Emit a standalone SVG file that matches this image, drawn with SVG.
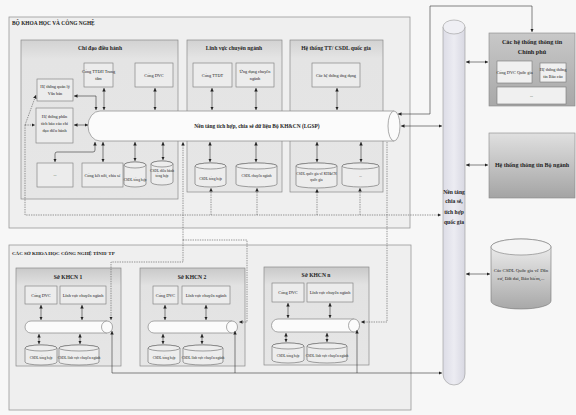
<svg xmlns="http://www.w3.org/2000/svg" width="576" height="415" viewBox="0 0 576 415">
<style>
text{font-family:"Liberation Serif","Times New Roman",serif;fill:#222;text-anchor:middle}
.t{font-size:4.3px}
.h{font-size:5.6px;font-weight:bold}
.hl{font-size:5.4px;font-weight:bold;text-anchor:start}
.outer{fill:#efefef;stroke:#9a9a9a;stroke-width:0.8}
.grp{fill:url(#gGrp);stroke:#8a8a8a;stroke-width:0.7}
.box{fill:#ececec;stroke:#777;stroke-width:0.6}
.cyl{fill:#ededed;stroke:#666;stroke-width:0.6}
.tube{fill:#fbfbfb;stroke:#888;stroke-width:0.7}
.ln{fill:none;stroke:#333;stroke-width:0.6}
.dt{fill:none;stroke:#555;stroke-width:0.6;stroke-dasharray:1.4 1}
</style>
<defs>
<marker id="a" viewBox="0 0 6 6" refX="6" refY="3" markerWidth="3.5" markerHeight="3.5" markerUnits="userSpaceOnUse" orient="auto-start-reverse"><path d="M0,0L6,3L0,6z" fill="#222"/></marker>
<linearGradient id="gGrp" x1="0" y1="0" x2="0" y2="1"><stop offset="0" stop-color="#d2d2d2"/><stop offset="0.12" stop-color="#e4e4e4"/><stop offset="1" stop-color="#e6e6e6"/></linearGradient>
<linearGradient id="gSo" x1="0" y1="0" x2="0" y2="1"><stop offset="0" stop-color="#c9c9c9"/><stop offset="0.18" stop-color="#e2e2e2"/><stop offset="1" stop-color="#e6e6e6"/></linearGradient>
<linearGradient id="gGov" x1="0" y1="0" x2="0" y2="1"><stop offset="0" stop-color="#c8c8c8"/><stop offset="1" stop-color="#a8a8a8"/></linearGradient>
<linearGradient id="gBn" x1="0" y1="0" x2="0" y2="1"><stop offset="0" stop-color="#e0e0e0"/><stop offset="1" stop-color="#a4a4a4"/></linearGradient>
<linearGradient id="gCyl" x1="0" y1="0" x2="0" y2="1"><stop offset="0" stop-color="#f2f2f2"/><stop offset="1" stop-color="#a8a8a8"/></linearGradient>
<linearGradient id="gV" x1="0" y1="0" x2="1" y2="0"><stop offset="0" stop-color="#dcdce6"/><stop offset="0.5" stop-color="#ececf2"/><stop offset="1" stop-color="#d8d8e2"/></linearGradient>
</defs>
<rect width="576" height="415" fill="#f7f7f7"/>

<g id="bo-khcn">
<rect class="outer" x="9" y="17" width="401" height="211"/>
<text class="hl" x="12" y="25">BỘ KHOA HỌC VÀ CÔNG NGHỆ</text>
</g>
<g id="chi-dao">
<rect class="grp" x="21" y="40" width="157" height="159"/>
<text class="h" x="100" y="50">Chỉ đạo điều hành</text>
</g>
<g id="linh-vuc">
<rect class="grp" x="187" y="40" width="95" height="152"/>
<text class="h" x="234" y="50">Lĩnh vực chuyên ngành</text>
</g>
<g id="ht-tt">
<rect class="grp" x="290" y="40" width="93" height="152"/>
<text class="h" x="336" y="50">Hệ thống TT/ CSDL quốc gia</text>
</g>
<g id="cong-ttdh"><rect class="box" x="84" y="63" width="29" height="24"/><text class="t" x="98.5" y="73">Cổng TTĐH Trung</text><text class="t" x="98.5" y="80">tâm</text></g>
<g id="cong-dvc"><rect class="box" x="135" y="63" width="38" height="24"/><text class="t" x="154" y="76.5">Cổng DVC</text></g>
<g id="ht-qlvb"><rect class="box" x="37" y="79" width="36" height="22"/><text class="t" x="55" y="88">Hệ thống quản lý</text><text class="t" x="55" y="95">Văn bản</text></g>
<g id="ht-pt"><rect class="box" x="36" y="108" width="37" height="35"/><text class="t" x="54.5" y="118">Hệ thống phân</text><text class="t" x="54.5" y="125">tích báo cáo chỉ</text><text class="t" x="54.5" y="132">đạo điều hành</text></g>
<g id="khac"><rect class="box" x="37" y="163" width="36" height="24"/><text class="t" x="55" y="176">...</text></g>
<g id="cong-ketnoi"><rect class="box" x="82" y="163" width="41" height="24"/><text class="t" x="102.5" y="176.5">Cổng kết nối, chia sẻ</text></g>
<g id="csdl-th"><path class="cyl" d="M124 165 A11 3 0 0 1 146 165 V184 A11 3 0 0 1 124 184Z"/><ellipse class="cyl" cx="135" cy="165" rx="11" ry="3"/><text class="t" x="135" y="181" style="font-size:3.6px">CSDL tổng hợp</text></g>
<g id="csdl-dh"><path class="cyl" d="M151 164 A11 3 0 0 1 173 164 V182 A11 3 0 0 1 151 182Z"/><ellipse class="cyl" cx="162" cy="164" rx="11" ry="3"/><text class="t" x="162" y="172" style="font-size:3.6px">CSDL điều hành</text><text class="t" x="162" y="177" style="font-size:3.6px">tổng hợp</text></g>
<g id="cong-ttdt"><rect class="box" x="193" y="63" width="39" height="24"/><text class="t" x="212.5" y="76.5">Cổng TTĐT</text></g>
<g id="ung-dung"><rect class="box" x="236" y="63" width="38" height="24"/><text class="t" x="255" y="73">Ứng dụng chuyên</text><text class="t" x="255" y="80">ngành</text></g>
<g id="csdl-th2"><path class="cyl" d="M195 166 A15.5 3 0 0 1 226 166 V184 A15.5 3 0 0 1 195 184Z"/><ellipse class="cyl" cx="210.5" cy="166" rx="15.5" ry="3"/><text class="t" x="210.5" y="180" style="font-size:3.6px">CSDL tổng hợp</text></g>
<g id="csdl-cn"><path class="cyl" d="M236 166 A20.5 3 0 0 1 277 166 V184 A20.5 3 0 0 1 236 184Z"/><ellipse class="cyl" cx="256.5" cy="166" rx="20.5" ry="3"/><text class="t" x="256.5" y="177" style="font-size:3.6px">CSDL chuyên ngành</text></g>
<g id="cac-ht-ud"><rect class="box" x="312" y="63" width="48" height="24"/><text class="t" x="336" y="76.5">Các hệ thống ứng dụng</text></g>
<g id="csdl-qg"><path class="cyl" d="M296 166 A20.5 3 0 0 1 337 166 V185 A20.5 3 0 0 1 296 185Z"/><ellipse class="cyl" cx="316.5" cy="166" rx="20.5" ry="3"/><text class="t" x="316.5" y="175" style="font-size:3.6px">CSDL quốc gia về KH&amp;CN</text><text class="t" x="316.5" y="181" style="font-size:3.6px">quốc gia</text></g>
<g id="csdl-khac"><path class="cyl" d="M342 166 A18.5 3 0 0 1 379 166 V184 A18.5 3 0 0 1 342 184Z"/><ellipse class="cyl" cx="360.5" cy="166" rx="18.5" ry="3"/><text class="t" x="360.5" y="177" style="font-size:3.6px">...</text></g>
<g id="lgsp">
<path class="tube" d="M100 111 H394 V141 H100 A12 15 0 0 1 100 111Z"/>
<ellipse class="tube" cx="394" cy="126" rx="6" ry="15"/>
<text class="h" x="257" y="128" style="font-size:5.4px">Nền tảng tích hợp, chia sẻ dữ liệu Bộ KH&amp;CN (LGSP)</text>
</g>

<g id="cac-so">
<rect class="outer" x="9" y="245" width="402" height="165"/>
<text class="hl" x="12" y="255" style="font-size:5px">CÁC SỞ KHOA HỌC CÔNG NGHỆ TỈNH/ TP</text>
</g>
<g id="so-1">
<rect class="grp" x="16" y="268" width="105" height="98" style="fill:url(#gSo)"/>
<text class="h" x="68" y="279">Sở KHCN 1</text>
<rect class="box" x="25" y="286" width="32" height="18"/><text class="t" x="41" y="296.5">Cổng DVC</text>
<rect class="box" x="60" y="286" width="46" height="18"/><text class="t" x="83" y="296.5">Lĩnh vực chuyên ngành</text>
<path class="tube" d="M31 321 H107 V333 H31 A6 6 0 0 1 31 321Z"/><ellipse class="tube" cx="107" cy="327" rx="5.5" ry="6"/>
<path class="cyl" d="M25 348 A16 3 0 0 1 57 348 V362 A16 3 0 0 1 25 362Z"/><ellipse class="cyl" cx="41" cy="348" rx="16" ry="3"/><text class="t" x="41" y="359" style="font-size:3.6px">CSDL tổng hợp</text>
<path class="cyl" d="M59 348 A20 3 0 0 1 99 348 V362 A20 3 0 0 1 59 362Z"/><ellipse class="cyl" cx="79" cy="348" rx="20" ry="3"/><text class="t" x="79" y="359" style="font-size:3.6px">CSDL lĩnh vực chuyên ngành</text>
</g>
<g id="so-2">
<rect class="grp" x="140" y="268" width="105" height="98" style="fill:url(#gSo)"/>
<text class="h" x="192" y="279">Sở KHCN 2</text>
<rect class="box" x="153" y="286" width="25" height="18"/><text class="t" x="165.5" y="296.5">Cổng DVC</text>
<rect class="box" x="182" y="286" width="48" height="18"/><text class="t" x="206" y="296.5">Lĩnh vực chuyên ngành</text>
<path class="tube" d="M154 321 H232 V333 H154 A6 6 0 0 1 154 321Z"/><ellipse class="tube" cx="232" cy="327" rx="5.5" ry="6"/>
<path class="cyl" d="M148 348 A16 3 0 0 1 180 348 V362 A16 3 0 0 1 148 362Z"/><ellipse class="cyl" cx="164" cy="348" rx="16" ry="3"/><text class="t" x="164" y="359" style="font-size:3.6px">CSDL tổng hợp</text>
<path class="cyl" d="M183 348 A20 3 0 0 1 223 348 V362 A20 3 0 0 1 183 362Z"/><ellipse class="cyl" cx="203" cy="348" rx="20" ry="3"/><text class="t" x="203" y="359" style="font-size:3.6px">CSDL lĩnh vực chuyên ngành</text>
</g>
<g id="so-n">
<rect class="grp" x="264" y="267" width="105" height="98" style="fill:url(#gSo)"/>
<text class="h" x="316" y="277">Sở KHCN n</text>
<rect class="box" x="272" y="283" width="32" height="19"/><text class="t" x="288" y="294">Cổng DVC</text>
<rect class="box" x="307" y="283" width="46" height="19"/><text class="t" x="330" y="294">Lĩnh vực chuyên ngành</text>
<path class="tube" d="M278 319 H354 V332 H278 A6.5 6.5 0 0 1 278 319Z"/><ellipse class="tube" cx="354" cy="325.5" rx="5.5" ry="6.5"/>
<path class="cyl" d="M272 346 A16 3 0 0 1 304 346 V360 A16 3 0 0 1 272 360Z"/><ellipse class="cyl" cx="288" cy="346" rx="16" ry="3"/><text class="t" x="288" y="357" style="font-size:3.6px">CSDL tổng hợp</text>
<path class="cyl" d="M307 346 A20 3 0 0 1 347 346 V360 A20 3 0 0 1 307 360Z"/><ellipse class="cyl" cx="327" cy="346" rx="20" ry="3"/><text class="t" x="327" y="357" style="font-size:3.6px">CSDL lĩnh vực chuyên ngành</text>
</g>

<g id="nen-tang-qg">
<path d="M443 27 V374 A11 11 0 0 0 465 374 V27Z" fill="url(#gV)" stroke="#999" stroke-width="0.6"/>
<ellipse cx="454" cy="27" rx="11" ry="7" fill="#efeff4" stroke="#999" stroke-width="0.6"/>
<text class="h" x="454" y="194">Nền tảng</text>
<text class="h" x="454" y="203">chia sẻ,</text>
<text class="h" x="454" y="214">tích hợp</text>
<text class="h" x="454" y="224">quốc gia</text>
</g>
<g id="ht-chinh-phu">
<rect x="489" y="33" width="86" height="73" fill="url(#gGov)" stroke="#888" stroke-width="0.6"/>
<text class="h" x="532" y="44" style="font-size:6.2px">Các hệ thống thông tin</text>
<text class="h" x="532" y="54" style="font-size:6.2px">Chính phủ</text>
<rect class="box" x="497" y="61" width="35" height="22" style="fill:#f0f0f0"/><text class="t" x="514.5" y="73.5">Cổng DVC Quốc gia</text>
<rect class="box" x="540" y="63" width="26" height="19" style="fill:#f0f0f0"/><text class="t" x="553" y="71">Hệ thống thông</text><text class="t" x="553" y="78">tin Báo cáo</text>
<rect class="box" x="497" y="87" width="69" height="17" style="fill:#f0f0f0"/><text class="t" x="531.5" y="97">...</text>
</g>
<g id="ht-bo-nganh">
<rect x="489" y="133" width="86" height="65" fill="url(#gBn)" stroke="#888" stroke-width="0.6"/>
<text class="h" x="532" y="167" style="font-size:6px">Hệ thống thông tin Bộ ngành</text>
</g>
<g id="csdl-quoc-gia">
<path d="M491 247 A30 8 0 0 1 551 247 V301 A30 8 0 0 1 491 301Z" fill="url(#gCyl)" stroke="#777" stroke-width="0.6"/>
<ellipse cx="521" cy="247" rx="30" ry="8" fill="#f4f4f4" stroke="#777" stroke-width="0.6"/>
<text class="t" x="521" y="272" style="font-size:4.8px">Các CSDL Quốc gia về Dân</text>
<text class="t" x="521" y="280" style="font-size:4.8px">cư, Đất đai, Bảo hiểm,...</text>
</g>

<g id="connectors">
<g class="ln" marker-start="url(#a)" marker-end="url(#a)">
<path d="M104 88 V110"/>
<path d="M74 96 H96 V110"/>
<path d="M155 88 V110"/>
<path d="M74 125 H88"/>
<path d="M95 142 V150 Q95 152 93 152 H57 Q55 152 55 154 V162"/>
<path d="M103 142 V162"/>
<path d="M135 142 V161"/>
<path d="M163 142 V160"/>
<path d="M212 88 V110"/>
<path d="M256 88 V110"/>
<path d="M210 142 V162"/>
<path d="M256 142 V162"/>
<path d="M337 88 V110"/>
<path d="M317 142 V162"/>
<path d="M361 142 V162"/>
<path d="M398 114 H430 V6 H532 V32"/>
<path d="M401 126 H442"/>
<path d="M466 62 H488"/>
<path d="M466 165 H488"/>
<path d="M466 274 H490"/>
<path d="M41 305 V320"/>
<path d="M82 305 V320"/>
<path d="M39 334 V344"/>
<path d="M80 334 V344"/>
<path d="M165 305 V320"/>
<path d="M206 305 V320"/>
<path d="M163 334 V344"/>
<path d="M202 334 V344"/>
<path d="M288 303 V318"/>
<path d="M330 303 V318"/>
<path d="M286 333 V342"/>
<path d="M327 333 V342"/>
<path d="M112 331 V373 H442"/>
</g>
<g class="ln" marker-start="url(#a)">
<path d="M235 331 V373"/>
<path d="M357 330 V373"/>
</g>
<g class="dt" marker-end="url(#a)">
<path d="M25 125 L36 95" />
<path d="M25 125 H35"/>
<path d="M25 125 V215 H441"/>
<path d="M211 215 V188"/>
<path d="M257 215 V188"/>
<path d="M317 215 V189"/>
<path d="M360 215 V188"/>
<path d="M183 240 V262 H111 V320"/>
<path d="M183 240 H247 V322 H239"/>
<path d="M387 142 V322 H361"/>
<path d="M183 240 V142"/>
</g>
</g>
</svg>
